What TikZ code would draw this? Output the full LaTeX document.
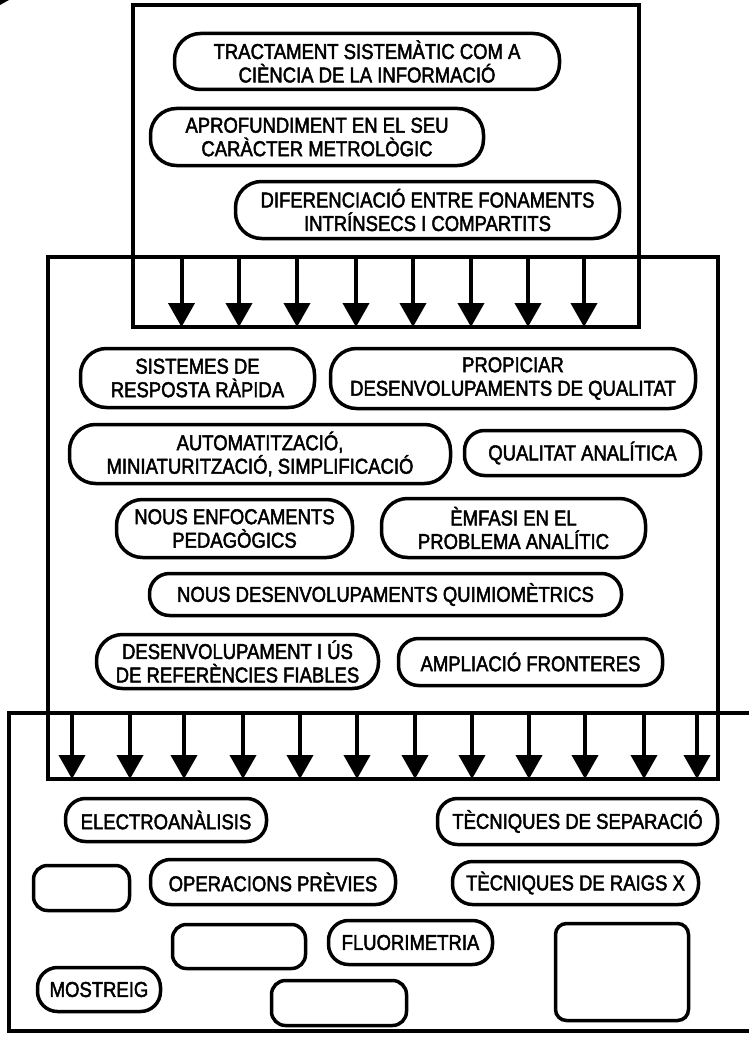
\documentclass[tikz,border=0pt]{standalone}
\usepackage{fontspec}
\setmainfont{Liberation Sans}[FakeStretch=0.86,FakeBold=2.2]
\usetikzlibrary{arrows.meta}
\begin{document}
\begin{tikzpicture}[x=1pt,y=-1pt,
  bigbox/.style={draw, line width=4pt, inner sep=0pt, outer sep=0pt},
  pill/.style={draw, line width=3.5pt, rounded corners=20pt, inner sep=0pt, outer sep=0pt,
    align=center, font=\fontsize{21.5}{23.5}\selectfont},
  pilltwo/.style={pill, rounded corners=26pt},
  blank/.style={pill, rounded corners=14pt},
  arr/.style={line width=4pt, -{Triangle[width=26pt,length=24pt]}}]
\useasboundingbox (0,0) rectangle (749,1038);
\fill (0,0) -- (9,0) -- (0,5) -- cycle;
% large frames
\node[bigbox, minimum width=506, minimum height=322] (topbox) at (386,166) {};
\node[bigbox, minimum width=670, minimum height=522] (midbox) at (383,518) {};
\node[bigbox, minimum width=742, minimum height=318] (botbox) at (380,872) {};
% top frame
\node[pilltwo, minimum width=385, minimum height=56] (t1) at (367,61.5) {TRACTAMENT SISTEMÀTIC COM A\\CIÈNCIA DE LA INFORMACIÓ};
\node[pilltwo, minimum width=333, minimum height=57] (t2) at (317,137) {APROFUNDIMENT EN EL SEU\\CARÀCTER METROLÒGIC};
\node[pilltwo, minimum width=384, minimum height=57] (t3) at (427.5,210) {DIFERENCIACIÓ ENTRE FONAMENTS\\INTRÍNSECS I COMPARTITS};
% middle frame
\node[pilltwo, minimum width=234, minimum height=59] (s1) at (197.5,378) {SISTEMES DE\\RESPOSTA RÀPIDA};
\node[pilltwo, minimum width=365, minimum height=60] (s2) at (513,378.5) {PROPICIAR\\DESENVOLUPAMENTS DE QUALITAT};
\node[pilltwo, minimum width=381, minimum height=59] (s3) at (260,454) {AUTOMATITZACIÓ,\\MINIATURITZACIÓ, SIMPLIFICACIÓ};
\node[pill, minimum width=236, minimum height=45] (s4) at (582.5,453) {QUALITAT ANALÍTICA};
\node[pilltwo, minimum width=236, minimum height=58] (s5) at (234.5,528.5) {NOUS ENFOCAMENTS\\PEDAGÒGICS};
\node[pilltwo, minimum width=264, minimum height=59] (s6) at (513.5,528) {ÈMFASI EN EL\\PROBLEMA ANALÍTIC};
\node[pill, minimum width=472, minimum height=42] (s7) at (385.5,594.5) {NOUS DESENVOLUPAMENTS QUIMIOMÈTRICS};
\node[pilltwo, minimum width=282, minimum height=54] (s8) at (237.5,661.5) {DESENVOLUPAMENT I ÚS\\DE REFERÈNCIES FIABLES};
\node[pill, minimum width=264, minimum height=47] (s9) at (530.5,662) {AMPLIACIÓ FRONTERES};
% bottom frame
\node[pill, minimum width=201, minimum height=43] (b1) at (166,820) {ELECTROANÀLISIS};
\node[pill, minimum width=280, minimum height=46] (b2) at (577.5,821.5) {TÈCNIQUES DE SEPARACIÓ};
\node[blank, minimum width=96, minimum height=45] (b3) at (81.5,888) {};
\node[pill, minimum width=245, minimum height=45] (b4) at (273,882) {OPERACIONS PRÈVIES};
\node[pill, minimum width=246, minimum height=43] (b5) at (575.5,883) {TÈCNIQUES DE RAIGS X};
\node[blank, minimum width=133, minimum height=44] (b6) at (239,946.5) {};
\node[pill, minimum width=164, minimum height=44] (b7) at (410.5,942.5) {FLUORIMETRIA};
\node[blank, rounded corners=11pt, minimum width=133, minimum height=97] (b8) at (622,972) {};
\node[pill, minimum width=123, minimum height=44] (b9) at (99,989.5) {MOSTREIG};
\node[blank, minimum width=135, minimum height=45] (b10) at (339,1003) {};
% arrows from middle frame into top frame
\foreach \x [count=\i] in {181.5,239,297,356,413,471,528,584} {
  \coordinate (ua\i) at (\x,0);
  \draw[arr] (midbox.north -| ua\i) -- (topbox.south -| ua\i);
}
% arrows from bottom frame into middle frame
\foreach \x [count=\i] in {72,130,184,243,300,357,415,472,529,585,644,697} {
  \coordinate (la\i) at (\x,0);
  \draw[arr] (botbox.north -| la\i) -- (midbox.south -| la\i);
}
\end{tikzpicture}
\end{document}
